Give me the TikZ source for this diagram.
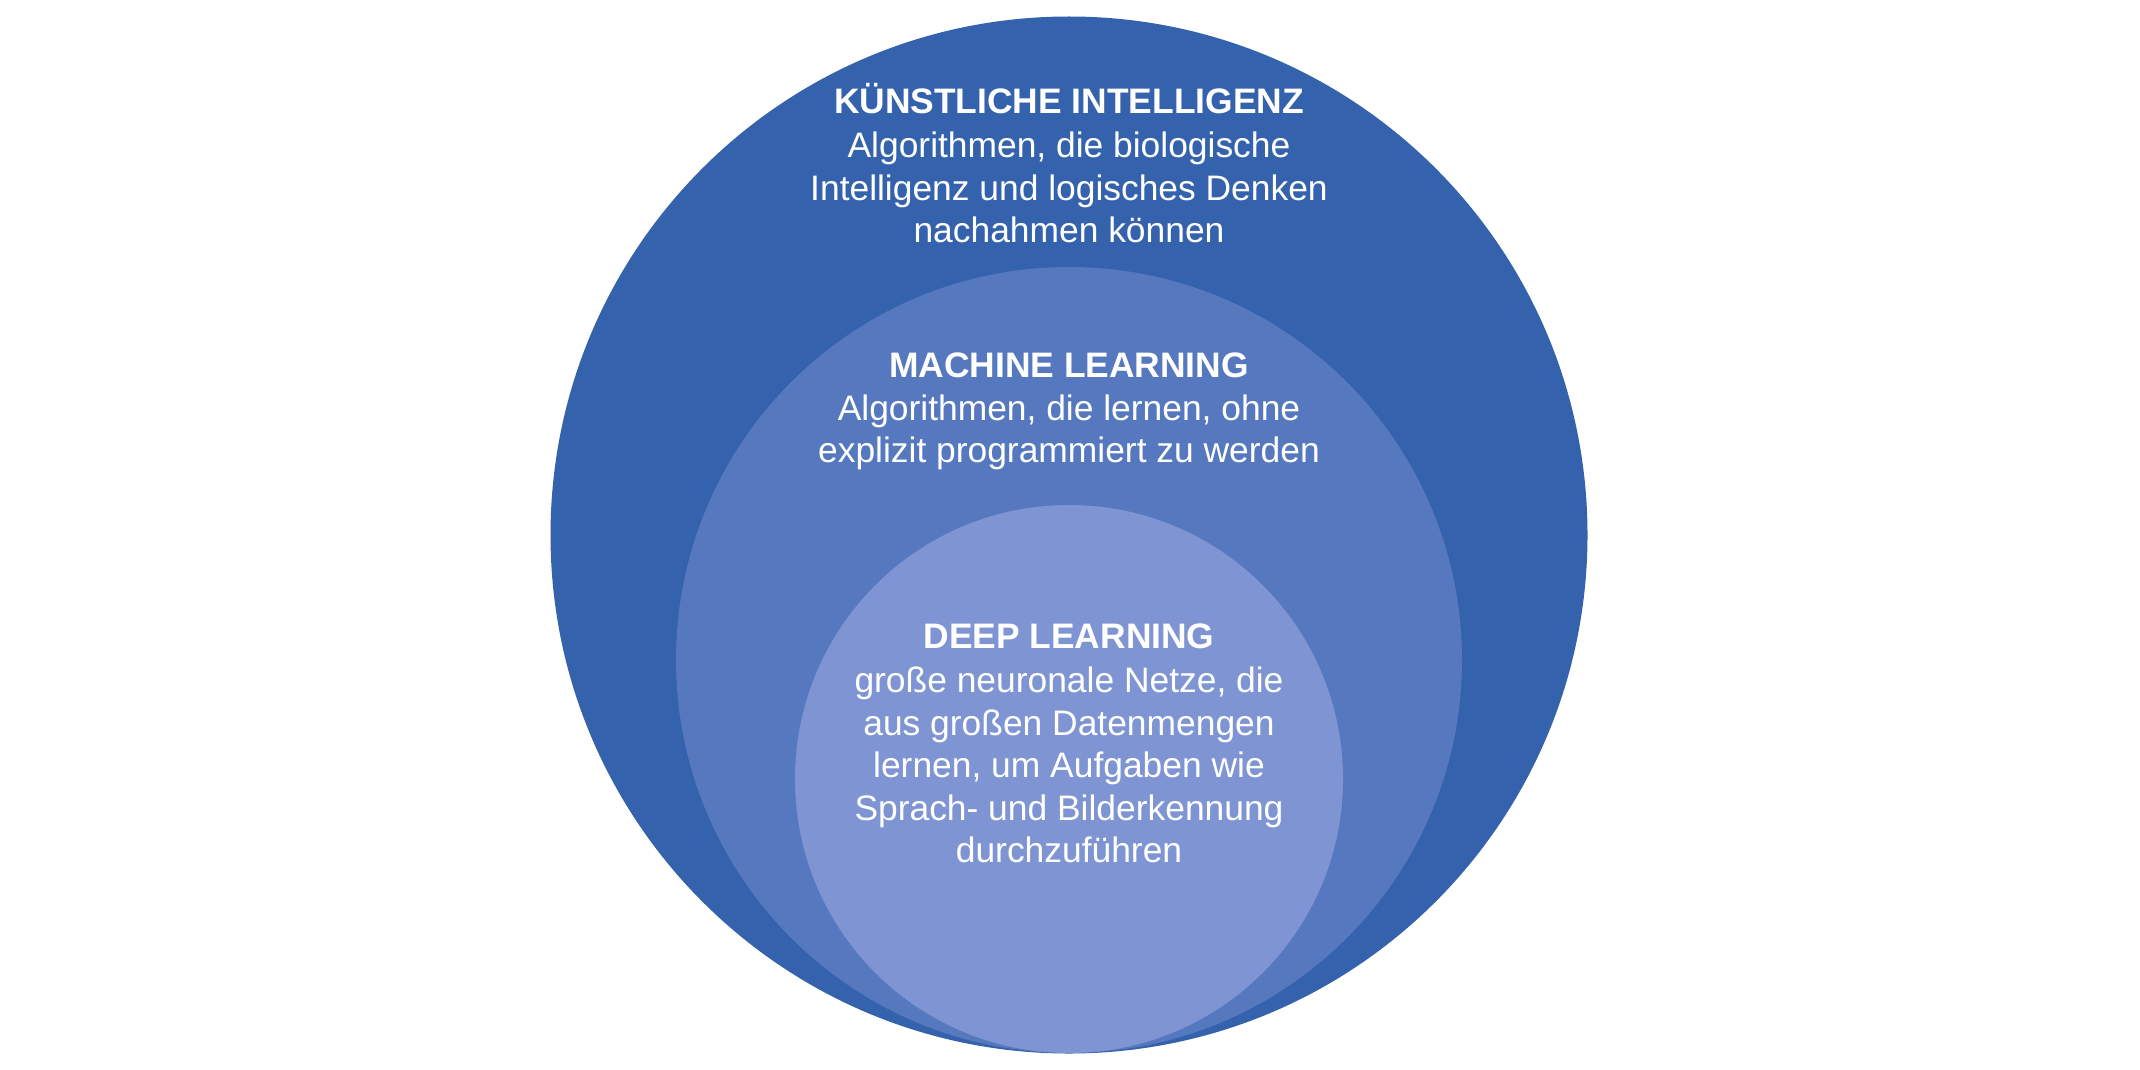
\documentclass[tikz,border=0pt]{standalone}
\usepackage{fontspec}
\setmainfont{Liberation Sans}
\definecolor{outerblue}{RGB}{52,98,172}
\definecolor{midblue}{RGB}{86,120,190}
\definecolor{innerblue}{RGB}{127,149,211}
\begin{document}
\begin{tikzpicture}[x=0.5pt,y=-0.5pt,
  ring/.style={draw=none},
  head/.style={anchor=base,inner sep=0pt,text=white,font=\fontsize{17.7pt}{21pt}\selectfont\bfseries},
  body/.style={anchor=base,inner sep=0pt,text=white,font=\fontsize{17.7pt}{21pt}\selectfont}]
\useasboundingbox[fill=white] (0,0) rectangle (2140,1070);
\fill[ring,outerblue] (1069,535) circle[radius=259.25pt];
\fill[ring,midblue] (1069,660) circle[radius=196.5pt];
\fill[ring,innerblue] (1069,779) circle[radius=137pt];
% KI
\node[head] (kiT) at (1069,113) {KÜNSTLICHE INTELLIGENZ};
\node[body] (ki1) at (1069,157) {Algorithmen, die biologische};
\node[body] (ki2) at (1069,200) {Intelligenz und logisches Denken};
\node[body] (ki3) at (1069,242) {nachahmen können};
% ML
\node[head] (mlT) at (1069,377) {MACHINE LEARNING};
\node[body] (ml1) at (1069,420) {Algorithmen, die lernen, ohne};
\node[body] (ml2) at (1069,462) {explizit programmiert zu werden};
% DL
\node[head] (dlT) at (1069,648) {DEEP LEARNING};
\node[body] (dl1) at (1069,692) {große neuronale Netze, die};
\node[body] (dl2) at (1069,735) {aus großen Datenmengen};
\node[body] (dl3) at (1069,777) {lernen, um Aufgaben wie};
\node[body] (dl4) at (1069,820) {Sprach- und Bilderkennung};
\node[body] (dl5) at (1069,862) {durchzuführen};
\end{tikzpicture}
\end{document}
